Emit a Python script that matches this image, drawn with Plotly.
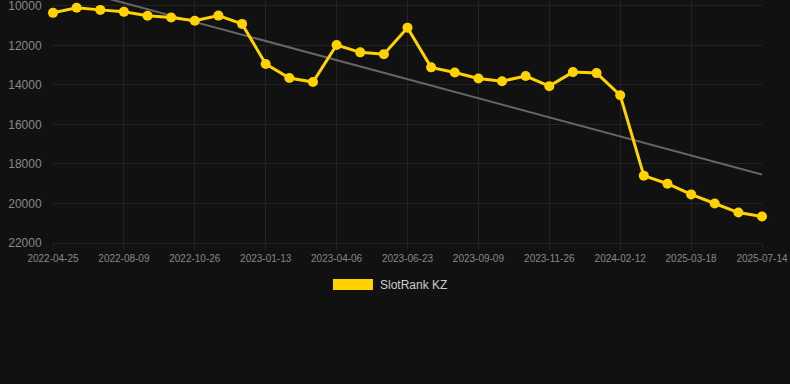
import plotly.graph_objects as go

dates = [
    "2022-04-25", "2022-06-01", "2022-07-14", "2022-08-09", "2022-09-04", "2022-09-30",
    "2022-10-26", "2022-11-21", "2022-12-18", "2023-01-13", "2023-02-08", "2023-03-11",
    "2023-04-06", "2023-05-02", "2023-05-28", "2023-06-23", "2023-07-19", "2023-08-14",
    "2023-09-09", "2023-10-05", "2023-10-31", "2023-11-26", "2023-12-22", "2024-01-17",
    "2024-02-12", "2025-01-24", "2025-02-20", "2025-03-18", "2025-04-15", "2025-06-16",
    "2025-07-14",
]
rank = [
    10350, 10090, 10200, 10300, 10500, 10590, 10750, 10490, 10910, 12940, 13650, 13850,
    11980, 12350, 12440, 11100, 13110, 13370, 13670, 13810, 13550, 14060, 13350, 13400,
    14520, 18590, 19000, 19540, 20000, 20460, 20660,
]
trend_x = [dates[0], dates[-1]]
trend_y = [8880, 18540]
y_ticks = [10000, 12000, 14000, 16000, 18000, 20000, 22000]
series_name = "SlotRank KZ"

YELLOW = "#FFD200"
BG = "#111111"
GRID = "#222222"

fig = go.Figure()
fig.add_trace(go.Scatter(
    x=trend_x, y=trend_y, mode="lines",
    line=dict(color="#666666", width=2),
    showlegend=False, hoverinfo="skip", cliponaxis=True,
))
fig.add_trace(go.Scatter(
    x=dates, y=rank, mode="lines+markers", name=series_name,
    line=dict(color=YELLOW, width=3),
    marker=dict(color=YELLOW, size=10),
    showlegend=False, cliponaxis=False,
))

fig.update_layout(
    width=790, height=384,
    paper_bgcolor=BG, plot_bgcolor=BG,
    margin=dict(l=53, r=28, t=0, b=141),
    font=dict(family="Liberation Sans, Arial, sans-serif", color="#888888"),
    showlegend=False,
    xaxis=dict(
        type="category", categoryorder="array", categoryarray=dates,
        range=[0, len(dates) - 1],
        tickmode="array", tickvals=dates[::3], ticktext=dates[::3],
        tickfont=dict(size=10, color="#888888"),
        showgrid=True, gridcolor=GRID, gridwidth=1,
        zeroline=False, showline=True, linecolor=GRID,
        ticks="outside", ticklen=6, tickcolor=GRID,
        ticklabeloverflow="allow",
    ),
    yaxis=dict(
        range=[22000, 9700],
        tickmode="array", tickvals=y_ticks, ticktext=[str(v) for v in y_ticks],
        tickfont=dict(size=12, color="#888888"),
        showgrid=True, gridcolor=GRID, gridwidth=1,
        zeroline=False, showline=False,
        ticks="outside", ticklen=8, tickcolor=BG,
        ticklabeloverflow="allow",
    ),
    shapes=[dict(
        type="rect", xref="paper", yref="paper",
        x0=0.3949, x1=0.4513, y0=-0.1934, y1=-0.148,
        fillcolor=YELLOW, line=dict(width=0),
    )],
    annotations=[dict(
        text=series_name, xref="paper", yref="paper",
        x=0.4585, y=-0.1728, xanchor="left", yanchor="middle",
        showarrow=False, font=dict(size=12, color="#cccccc"),
    )],
)

fig.write_html(
    "out.html",
    config={"displayModeBar": False},
    post_script="document.body.style.margin='0';document.body.style.background='#111111';",
)
